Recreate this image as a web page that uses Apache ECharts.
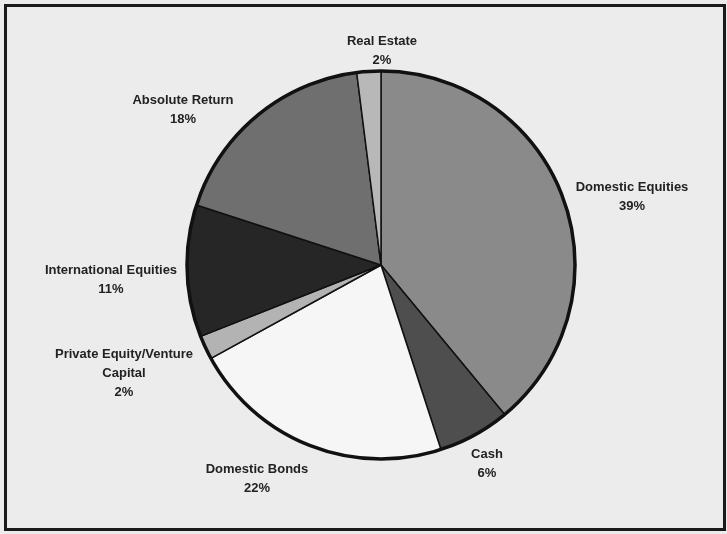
<!DOCTYPE html>
<html>
<head>
<meta charset="utf-8">
<script src="https://cdn.jsdelivr.net/npm/echarts@6/dist/echarts.min.js"></script>
<style>
  html, body { margin: 0; padding: 0; background: #f0f0f0; }
  #chart { position: absolute; left: 0; top: 0; width: 727px; height: 534px; background: #ececec; }
  #frame { position: absolute; left: 4px; top: 4px; width: 716px; height: 521px; border: 3px solid #1a1a1a; pointer-events: none; }
</style>
</head>
<body>
<div id="chart"></div>
<div id="frame"></div>
<script>
// Data (percent of total, clockwise from 12 o'clock)
var categories = [
  'Domestic Equities',
  'Cash',
  'Domestic Bonds',
  'Private Equity/Venture\nCapital',
  'International Equities',
  'Absolute Return',
  'Real Estate'
];
var values = [39, 6, 22, 2, 11, 18, 2];

// Styling (not data)
var sliceColors = ['#8a8a8a', '#4e4e4e', '#f6f6f6', '#b3b3b3', '#262626', '#6f6f6f', '#b8b8b8'];
// Label anchor points (centre of each label block)
var labelX = [632, 487, 257, 124, 111, 183, 382];
var labelY = [197, 464, 479, 373, 280, 110, 51];

var chart = echarts.init(document.getElementById('chart'), null, { renderer: 'canvas' });

var pieData = categories.map(function (name, i) {
  return { name: name, value: values[i], itemStyle: { color: sliceColors[i] } };
});

chart.setOption({
  animation: false,
  backgroundColor: '#ececec',
  series: [
    {
      type: 'pie',
      center: [381, 265],
      radius: [0, 194],
      startAngle: 90,
      clockwise: true,
      avoidLabelOverlap: false,
      data: pieData,
      itemStyle: { borderColor: '#111111', borderWidth: 1.5 },
      label: {
        show: true,
        position: 'outside',
        formatter: function (p) { return p.name + '\n' + p.value + '%'; },
        fontFamily: 'Liberation Sans, Arial, sans-serif',
        fontWeight: 'bold',
        fontSize: 13,
        lineHeight: 19,
        color: '#222222',
        align: 'center'
      },
      labelLine: { show: false },
      labelLayout: function (params) {
        var i = params.dataIndex;
        return { x: labelX[i], y: labelY[i], align: 'center', verticalAlign: 'middle' };
      },
      emphasis: { disabled: true }
    },
    {
      type: 'pie',
      center: [381, 265],
      radius: [0, 194],
      silent: true,
      data: [{ value: 1, name: 'outline' }],
      itemStyle: { color: 'rgba(0,0,0,0)', borderColor: '#111111', borderWidth: 3.5 },
      label: { show: false },
      labelLine: { show: false },
      emphasis: { disabled: true }
    }
  ]
});
</script>
</body>
</html>
